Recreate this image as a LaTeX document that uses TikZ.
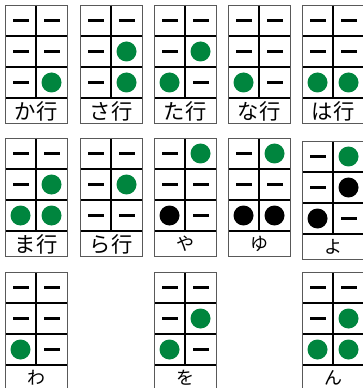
\documentclass[tikz,border=0pt]{standalone}
\usepackage{fontspec}
\newfontfamily\jp{Noto Sans CJK JP}
\definecolor{tgreen}{RGB}{0,133,62}
\tikzset{
  pt0/.style={fill=black,inner sep=0pt,minimum width=12pt,minimum height=1.6pt},
  pt1/.style={circle,fill=tgreen,inner sep=0pt,minimum size=15pt},
  pt2/.style={circle,fill=black,inner sep=0pt,minimum size=15pt},
  cellframe/.style={draw=black!65,line width=0.7pt},
  cellgrid/.style={line width=1.2pt},
  biglab/.style={font=\jp\fontsize{16}{16}\selectfont},
  smalllab/.style={font=\jp\fontsize{13.5}{13.5}\selectfont},
}
\begin{document}
\begin{tikzpicture}[x=0.75pt,y=-0.75pt]
\clip (0,0) rectangle (363,388);
%
\foreach \nm/\cx/\cy/\lab/\ls/\pts in {
  ka/5/5/か行/biglab/{0,0,0,0,0,1},
  sa/80/5/さ行/biglab/{0,0,0,0,1,1},
  ta/154/5/た行/biglab/{0,0,1,0,1,0},
  na/228/5/な行/biglab/{0,0,1,0,0,0},
  ha/302/5/は行/biglab/{0,0,1,0,0,1},
  ma/5/138/ま行/biglab/{0,0,1,0,1,1},
  ra/80/138/ら行/biglab/{0,0,0,0,1,0},
  ya/154/138/や/smalllab/{0,0,2,1,0,0},
  yu/228/138/ゆ/smalllab/{0,0,2,1,0,2},
  yo/302/141/よ/smalllab/{0,0,2,1,2,0},
  wa/5/272/わ/smalllab/{0,0,1,0,0,0},
  wo/154/272/を/smalllab/{0,0,1,0,1,0},
  nn/302/272/ん/smalllab/{0,0,1,0,1,1}}
{
  \draw[cellgrid] (\cx+31,\cy) -- (\cx+31,\cy+93);
  \foreach \r in {31,62,93}
    \draw[cellgrid] (\cx,\cy+\r) -- (\cx+62,\cy+\r);
  \draw[cellframe] (\cx,\cy) rectangle (\cx+62,\cy+118);
  %
  \foreach \v [count=\i] in \pts {
    \pgfmathtruncatemacro\col{(\i-1)/3}
    \pgfmathtruncatemacro\row{mod(\i-1,3)}
    \node[pt\v] (\nm\i) at (\cx+15.5+31*\col,\cy+15.5+31*\row) {};
  }
  %
  \node[\ls] (\nm-lab) at (\cx+31,\cy+106) {\lab};
}
\end{tikzpicture}
\end{document}
